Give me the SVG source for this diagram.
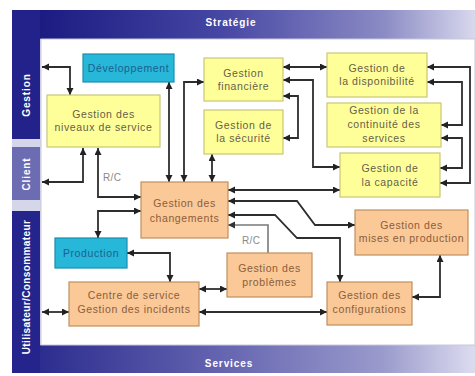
<svg xmlns="http://www.w3.org/2000/svg" width="475" height="376" viewBox="0 0 475 376">
<defs>
<linearGradient id="gTop" x1="0" y1="0" x2="1" y2="0">
<stop offset="0" stop-color="#14147c"/>
<stop offset="0.45" stop-color="#4646a4"/>
<stop offset="0.8" stop-color="#8a8ac4"/>
<stop offset="1" stop-color="#d8d8ee"/>
</linearGradient>
<linearGradient id="gBot" x1="0" y1="0" x2="1" y2="0">
<stop offset="0" stop-color="#24248a"/>
<stop offset="0.45" stop-color="#6464b0"/>
<stop offset="0.8" stop-color="#9a9acc"/>
<stop offset="1" stop-color="#dcdcf0"/>
</linearGradient>
<marker id="ah" markerUnits="userSpaceOnUse" markerWidth="8" markerHeight="8" refX="7" refY="3.5" orient="auto-start-reverse">
<path d="M0,0 L7,3.5 L0,7 z" fill="#222"/>
</marker>
<marker id="ahg" markerUnits="userSpaceOnUse" markerWidth="8" markerHeight="8" refX="7" refY="3.5" orient="auto-start-reverse">
<path d="M0,0 L7,3.5 L0,7 z" fill="#333"/>
</marker>
</defs>
<style>
.band{font-family:"Liberation Sans",Arial,sans-serif;font-weight:bold;font-size:10px;fill:#ffffff;letter-spacing:0.9px}
.yel{fill:#ffff99;stroke:#c9c77a;stroke-width:1.2}
.ora{fill:#fbc898;stroke:#c0905e;stroke-width:1.2}
.cya{fill:#27b7d9;stroke:#1a8eb0;stroke-width:1.2}
.t{font-family:"Liberation Sans",Arial,sans-serif;font-size:10.5px;letter-spacing:0.6px;text-anchor:middle;fill:#66604a}
.to{fill:#8a5e3a}
.tc{fill:#1d5f90}
.c{fill:none;stroke:#2e2e2e;stroke-width:1.8;marker-start:url(#ah);marker-end:url(#ah)}
.cg{fill:none;stroke:#7a7a7a;stroke-width:1.6}
.rc{font-family:"Liberation Sans",Arial,sans-serif;font-size:10px;fill:#8a8a8a;letter-spacing:0.4px}
</style>
<rect x="0" y="0" width="475" height="376" fill="#ffffff"/>
<g id="frame">
<rect x="12" y="10" width="29" height="363" fill="#d6d6ea"/>
<rect x="12" y="10" width="463" height="29" fill="url(#gTop)"/>
<rect x="12" y="345" width="463" height="28" fill="url(#gBot)"/>
<rect x="12" y="10" width="28" height="129" fill="#22228a"/>
<rect x="12" y="147" width="28" height="53" fill="#6c6cb2"/>
<rect x="12" y="211" width="28" height="162" fill="#24248c"/>
<rect x="41" y="39" width="434" height="306" fill="#ffffff" stroke="#c8c8dc" stroke-width="1"/>
<text class="band" x="231" y="25.5" text-anchor="middle">Stratégie</text>
<text class="band" x="229" y="367" text-anchor="middle">Services</text>
<text class="band" transform="translate(29.5,95) rotate(-90)" text-anchor="middle">Gestion</text>
<text class="band" transform="translate(29.5,174) rotate(-90)" text-anchor="middle">Client</text>
<text class="band" transform="translate(29.5,287) rotate(-90)" text-anchor="middle" style="letter-spacing:0.4px">Utilisateur/Consommateur</text>
</g>
<g id="connectors">
<path class="c" d="M42,67 H70 V95"/>
<path class="c" d="M42,182 H83 V148"/>
<path class="c" d="M98,148 V197 H141"/>
<path class="c" d="M141,211 H98 V238"/>
<path class="c" d="M169,82 V182"/>
<path class="c" d="M184,182 V82 H204"/>
<path class="c" d="M212,154 V182"/>
<path class="c" d="M283,67 H327"/>
<path class="c" d="M283,80 H313 V167 H340"/>
<path class="c" d="M283,96 H298 V138 H283"/>
<path class="c" d="M427,67 H470 V183 H440"/>
<path class="c" d="M427,82 H462 V125 H441"/>
<path class="c" d="M441,138 H462 V168 H440"/>
<path class="c" d="M228,190 H340"/>
<path class="c" d="M228,201 H297 L315,225 H355"/>
<path class="c" d="M228,215 H275 L297,238 H340 V282"/>
<path class="cg" d="M268,253 V225 H228" style="marker-end:url(#ahg)"/>
<path class="c" d="M127,253 H170 V282"/>
<path class="c" d="M199,289 H227"/>
<path class="c" d="M42,312 H69"/>
<path class="c" d="M199,312 H327"/>
<path class="c" d="M412,297 H440 V255"/>
<text class="rc" x="103" y="181">R/C</text>
<text class="rc" x="242" y="244">R/C</text>
</g>
<g id="dev">
<rect class="cya" x="83" y="54" width="91" height="28"/>
<text class="t tc" x="128.5" y="71.5">Développement</text>
</g>
<g id="niveaux">
<rect class="yel" x="47" y="95" width="113" height="52"/>
<text class="t" x="103.5" y="118">Gestion des</text>
<text class="t" x="103.5" y="131">niveaux de service</text>
</g>
<g id="financiere">
<rect class="yel" x="204" y="58" width="79" height="43"/>
<text class="t" x="243.5" y="77">Gestion</text>
<text class="t" x="243.5" y="90">financière</text>
</g>
<g id="securite">
<rect class="yel" x="204" y="110" width="79" height="44"/>
<text class="t" x="243.5" y="129">Gestion de</text>
<text class="t" x="243.5" y="142">la sécurité</text>
</g>
<g id="disponibilite">
<rect class="yel" x="327" y="53" width="100" height="44"/>
<text class="t" x="377" y="72">Gestion de</text>
<text class="t" x="377" y="85">la disponibilité</text>
</g>
<g id="continuite">
<rect class="yel" x="327" y="103" width="114" height="44"/>
<text class="t" x="384" y="114">Gestion de la</text>
<text class="t" x="384" y="128">continuité des</text>
<text class="t" x="384" y="142">services</text>
</g>
<g id="capacite">
<rect class="yel" x="340" y="153" width="100" height="44"/>
<text class="t" x="390" y="172">Gestion de</text>
<text class="t" x="390" y="186">la capacité</text>
</g>
<g id="changements">
<rect class="ora" x="141" y="182" width="87" height="56"/>
<text class="t to" x="184.5" y="207">Gestion des</text>
<text class="t to" x="184.5" y="222">changements</text>
</g>
<g id="miseprod">
<rect class="ora" x="355" y="210" width="113" height="45"/>
<text class="t to" x="411.5" y="229">Gestion des</text>
<text class="t to" x="411.5" y="242">mises en production</text>
</g>
<g id="problemes">
<rect class="ora" x="227" y="253" width="85" height="44"/>
<text class="t to" x="269.5" y="272">Gestion des</text>
<text class="t to" x="269.5" y="286">problèmes</text>
</g>
<g id="configurations">
<rect class="ora" x="327" y="282" width="85" height="43"/>
<text class="t to" x="369.5" y="299">Gestion des</text>
<text class="t to" x="369.5" y="313">configurations</text>
</g>
<g id="production">
<rect class="cya" x="55" y="238" width="72" height="30"/>
<text class="t tc" x="91" y="256.5">Production</text>
</g>
<g id="incidents">
<rect class="ora" x="69" y="282" width="130" height="44"/>
<text class="t to" x="134" y="299">Centre de service</text>
<text class="t to" x="134" y="313">Gestion des incidents</text>
</g>
</svg>
